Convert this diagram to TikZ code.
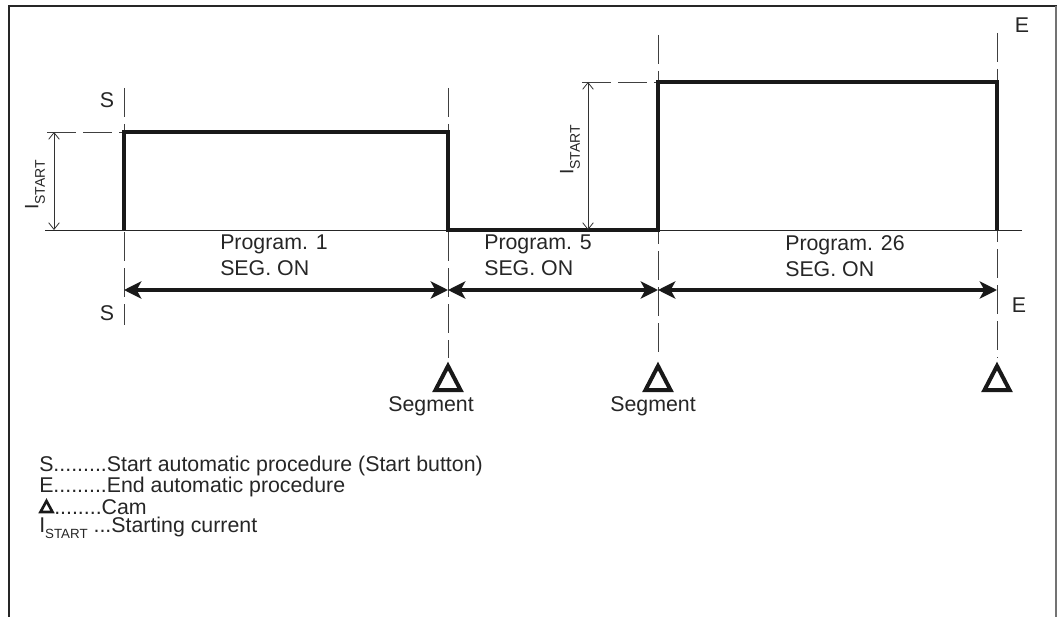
\documentclass[tikz,border=0pt]{standalone}
\usepackage{fontspec}
\setmainfont{Liberation Sans}
\usetikzlibrary{arrows.meta}

\tikzset{
  guide/.style={draw=black!75, line width=0.6pt, dash pattern=on 22pt off 5pt},
  signal/.style={draw=black!90, line width=2.5pt, line join=miter},
  span/.style={draw=black!90, line width=3.7pt,
    {Stealth[length=13pt,width=13pt,inset=3.5pt]}-{Stealth[length=13pt,width=13pt,inset=3.5pt]}},
  dim/.style={draw=black!80, line width=0.6pt,
    {Straight Barb[length=5pt,width=8pt]}-{Straight Barb[length=5pt,width=8pt]}},
  txt/.style={font=\fontsize{16}{19.5}\selectfont, inner sep=0pt, text=black!85},
  cam/.pic={\draw[line width=3pt, line join=miter, black!90] (-12.5,0) -- (12.5,0) -- (0,-24) -- cycle;}
}
\newcommand{\istart}[2]{{\fontsize{#1}{#1}\selectfont I}\raisebox{-0.3em}{\fontsize{#2}{#2}\selectfont START}}

\begin{document}
\begin{tikzpicture}[x=0.75pt, y=-0.75pt]
    \useasboundingbox (0,0) rectangle (1057,617);

    % frame
    \draw[line width=2pt, black!85] (9,617) -- (9,6) -- (1057,6);
    \draw[line width=1.1pt, black!55] (1056,6) -- (1056,617);

    % time marks on the axis
    \coordinate (ts) at (124,230);
    \coordinate (t1) at (448,230);
    \coordinate (t2) at (658,230);
    \coordinate (te) at (997,230);

    \draw[guide] (124,88) -- (124,325);
    \draw[guide] (448,88) -- (448,358);
    \draw[guide] (658,35) -- (658,358);
    \draw[guide] (997,33) -- (997,358);
    \draw[guide] (47,132) -- (124,132);
    \draw[guide] (582,82) -- (658,82);

    \draw[line width=0.6pt, black!85] (45,230) -- (1022,230);

    % welding current
    \draw[signal] (ts) -- (124,132) -- (448,132) -- (t1) -- (t2) -- (658,82) -- (997,82) -- (te);

    \draw[dim] (54,132) -- (54,230);
    \draw[dim] (588,82) -- (588,230);
    \node[txt, rotate=90] (i1) at (35,185) {\istart{14.5}{10.5}};
    \node[txt, rotate=90] (i2) at (570,150) {\istart{14.5}{10.5}};

    \node[txt] (s1) at (107,100) {S};
    \node[txt] (s2) at (107,313) {S};
    \node[txt] (e1) at (1022,25) {E};
    \node[txt] (e2) at (1019,305) {E};

    % programs
    \coordinate (a0) at (124,290);
    \coordinate (a1) at (448,290);
    \coordinate (a2) at (658,290);
    \coordinate (a3) at (997,290);
    \draw[span] (a0) -- (a1);
    \draw[span] (a1) -- (a2);
    \draw[span] (a2) -- (a3);

    \node[txt, anchor=north west, align=left] (p1) at (220,235) {Program. 1\\SEG. ON};
    \node[txt, anchor=north west, align=left] (p5) at (484,235) {Program. 5\\SEG. ON};
    \node[txt, anchor=north west, align=left] (p26) at (785,235) {Program. 26\\SEG. ON};

    % cams
    \pic at (448,390) {cam};
    \pic at (658,390) {cam};
    \pic at (997,390) {cam};
    \node[txt] (seg1) at (431,406) {Segment};
    \node[txt] (seg2) at (653,406) {Segment};

    % legend
    \node[txt, anchor=west] (legS) at (39,466) {S.........Start automatic procedure (Start button)};
    \node[txt, anchor=west] (legE) at (39,487) {E.........End automatic procedure};
    \draw[line width=2pt, line join=miter, black!90] (40.5,512) -- (52.5,512) -- (46.5,501) -- cycle;
    \node[txt, anchor=west] (legC) at (54,507) {........Cam};
    \node[txt, anchor=west] (legI) at (39,528) {\istart{16}{10} ...Starting current};
\end{tikzpicture}
\end{document}
